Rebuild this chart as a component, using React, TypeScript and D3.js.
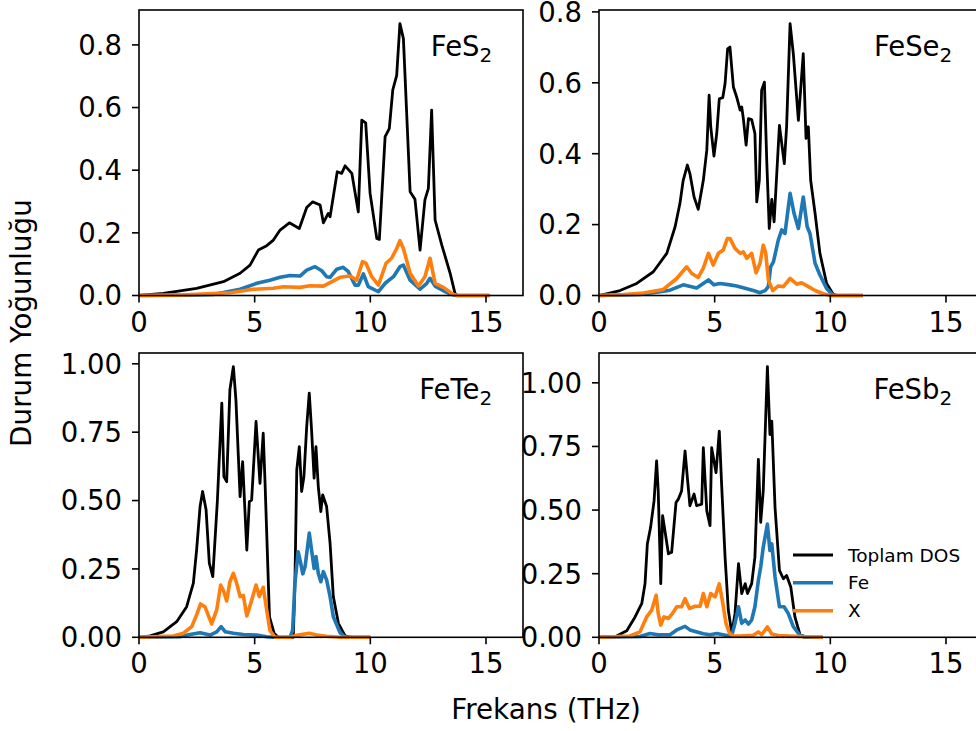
import React from "react";
import * as d3 from "d3";

type P = [number, number];

const seriesLabels = ["Toplam DOS", "Fe", "X"];
const compoundBase = ["FeS", "FeSe", "FeTe", "FeSb"];
const compoundSub = ["2", "2", "2", "2"];
const xTicks = [0, 5, 10, 15];
const yTicksTop = [0, 0.2, 0.4, 0.6, 0.8];
const yTicksBottom = [0, 0.25, 0.5, 0.75, 1.0];

const fes2Total: P[] = [[0,0],[1.05,0.007],[2.49,0.023],[3.65,0.044],[4.37,0.071],[4.8,0.097],[5.16,0.145],[5.52,0.159],[5.81,0.177],[6.1,0.209],[6.5,0.232],[6.93,0.214],[7.25,0.281],[7.51,0.299],[7.83,0.289],[7.97,0.232],[8.18,0.262],[8.26,0.251],[8.57,0.395],[8.76,0.39],[8.91,0.414],[9.2,0.39],[9.48,0.267],[9.63,0.56],[9.8,0.551],[9.99,0.326],[10.28,0.182],[10.39,0.179],[10.64,0.507],[10.82,0.533],[10.97,0.656],[11.14,0.703],[11.28,0.868],[11.43,0.82],[11.72,0.331],[11.93,0.307],[12.15,0.145],[12.36,0.305],[12.51,0.342],[12.65,0.592],[12.8,0.241],[13.09,0.161],[13.45,0.071],[13.66,0.007],[13.75,0],[15.15,0]];
const fes2Fe: P[] = [[0,0],[2,0.001],[3.21,0.003],[4.37,0.02],[5.09,0.039],[5.66,0.049],[6.1,0.058],[6.53,0.064],[6.96,0.062],[7.25,0.081],[7.61,0.092],[7.9,0.079],[8.11,0.06],[8.26,0.058],[8.55,0.084],[8.83,0.09],[9.05,0.076],[9.34,0.033],[9.48,0.033],[9.7,0.069],[9.91,0.028],[10.35,0.012],[10.64,0.039],[11.0,0.06],[11.28,0.092],[11.43,0.097],[11.72,0.049],[12.15,0.02],[12.44,0.039],[12.58,0.055],[12.8,0.03],[13.16,0.015],[13.52,0.003],[13.7,0],[15.15,0]];
const fes2X: P[] = [[0,0],[2,0.002],[3.93,0.009],[4.94,0.02],[5.81,0.023],[6.24,0.028],[6.96,0.026],[7.39,0.031],[7.97,0.03],[8.26,0.041],[8.69,0.058],[9.12,0.062],[9.41,0.049],[9.66,0.108],[9.81,0.103],[10.06,0.06],[10.35,0.033],[10.68,0.103],[10.92,0.119],[11.14,0.15],[11.28,0.175],[11.43,0.15],[11.72,0.071],[12.08,0.03],[12.36,0.06],[12.58,0.119],[12.8,0.039],[13.16,0.026],[13.59,0.003],[13.8,0],[15.15,0]];

const fese2Total: P[] = [[0,0],[0.91,0.014],[1.63,0.034],[2.35,0.067],[2.93,0.119],[3.29,0.194],[3.5,0.26],[3.64,0.325],[3.82,0.368],[3.93,0.344],[4.11,0.278],[4.29,0.243],[4.51,0.325],[4.66,0.41],[4.76,0.565],[4.83,0.476],[4.97,0.393],[5.09,0.457],[5.2,0.555],[5.35,0.558],[5.45,0.598],[5.56,0.696],[5.66,0.701],[5.81,0.588],[5.95,0.56],[6.1,0.523],[6.17,0.532],[6.24,0.499],[6.36,0.424],[6.46,0.499],[6.6,0.496],[6.74,0.457],[6.82,0.264],[6.93,0.325],[7.03,0.579],[7.15,0.602],[7.25,0.382],[7.36,0.189],[7.47,0.271],[7.57,0.208],[7.8,0.48],[8.01,0.372],[8.11,0.476],[8.26,0.767],[8.4,0.682],[8.62,0.494],[8.83,0.682],[8.95,0.443],[9.05,0.476],[9.15,0.325],[9.34,0.232],[9.55,0.119],[9.84,0.034],[10.13,0.003],[10.3,0],[11.4,0]];
const fese2Fe: P[] = [[0,0],[1.77,0.003],[2.49,0.009],[3.07,0.015],[3.64,0.03],[4.22,0.021],[4.73,0.044],[4.97,0.03],[5.23,0.034],[5.66,0.03],[5.95,0.027],[6.67,0.014],[6.96,0.008],[7.18,0.014],[7.32,0.025],[7.42,0.081],[7.54,0.095],[7.75,0.156],[7.9,0.185],[8.04,0.175],[8.26,0.288],[8.43,0.232],[8.62,0.189],[8.83,0.278],[9.0,0.194],[9.12,0.175],[9.34,0.091],[9.55,0.058],[9.84,0.02],[10.13,0],[11.4,0]];
const fese2X: P[] = [[0,0],[1.05,0.003],[1.92,0.007],[2.78,0.017],[3.36,0.048],[3.79,0.081],[4.01,0.062],[4.29,0.051],[4.51,0.077],[4.73,0.119],[4.94,0.086],[5.16,0.119],[5.37,0.128],[5.55,0.161],[5.66,0.161],[5.88,0.133],[6.1,0.119],[6.24,0.123],[6.39,0.105],[6.6,0.119],[6.79,0.064],[6.96,0.091],[7.1,0.142],[7.21,0.119],[7.32,0.044],[7.51,0.014],[7.75,0.027],[7.97,0.025],[8.26,0.048],[8.55,0.032],[8.76,0.036],[9.05,0.025],[9.34,0.014],[9.7,0.005],[10.0,0],[11.4,0]];

const fete2Total: P[] = [[0,0],[0.48,0.005],[1.05,0.02],[1.63,0.057],[2.06,0.112],[2.35,0.198],[2.49,0.319],[2.64,0.478],[2.75,0.533],[2.9,0.466],[3.04,0.271],[3.19,0.222],[3.39,0.502],[3.58,0.856],[3.67,0.588],[3.79,0.569],[3.93,0.905],[4.08,0.99],[4.19,0.868],[4.37,0.514],[4.48,0.642],[4.66,0.319],[4.77,0.496],[4.87,0.502],[5.06,0.789],[5.23,0.563],[5.37,0.746],[5.45,0.563],[5.64,0.075],[5.84,0.015],[6.02,0],[6.67,0],[6.74,0.198],[6.82,0.612],[6.93,0.697],[7.03,0.533],[7.13,0.588],[7.25,0.771],[7.36,0.893],[7.46,0.758],[7.57,0.582],[7.65,0.697],[7.75,0.551],[7.86,0.46],[7.94,0.521],[8.11,0.478],[8.26,0.344],[8.4,0.149],[8.62,0.051],[8.91,0.005],[9.2,0],[10,0]];
const fete2Fe: P[] = [[0,0],[1.77,0.002],[2.2,0.01],[2.64,0.017],[3.07,0.008],[3.36,0.02],[3.55,0.039],[3.73,0.02],[4.08,0.015],[4.51,0.01],[5.09,0.008],[5.52,0.002],[5.8,0],[6.53,0],[6.64,0.025],[6.74,0.198],[6.88,0.313],[6.99,0.271],[7.08,0.232],[7.18,0.258],[7.36,0.381],[7.46,0.319],[7.57,0.252],[7.65,0.295],[7.75,0.234],[7.86,0.203],[7.97,0.24],[8.11,0.21],[8.26,0.149],[8.4,0.075],[8.69,0.017],[8.91,0],[10,0]];
const fete2X: P[] = [[0,0],[1.48,0.005],[1.92,0.015],[2.28,0.039],[2.49,0.082],[2.66,0.122],[2.85,0.112],[3.14,0.049],[3.36,0.1],[3.53,0.191],[3.65,0.171],[3.79,0.133],[3.93,0.203],[4.08,0.234],[4.22,0.198],[4.37,0.149],[4.51,0.153],[4.66,0.078],[4.83,0.124],[5.06,0.191],[5.2,0.149],[5.37,0.183],[5.52,0.1],[5.66,0.025],[5.88,0],[6.53,0],[6.88,0.008],[7.36,0.015],[7.68,0.008],[8.11,0.004],[8.7,0],[10,0]];

const fesb2Total: P[] = [[0,0],[0.76,0.005],[1.2,0.026],[1.56,0.08],[1.85,0.133],[1.99,0.211],[2.09,0.367],[2.23,0.432],[2.38,0.536],[2.49,0.693],[2.56,0.575],[2.67,0.211],[2.75,0.478],[2.85,0.419],[3.0,0.328],[3.14,0.334],[3.33,0.53],[3.43,0.543],[3.57,0.575],[3.72,0.732],[3.82,0.627],[3.93,0.517],[4.11,0.563],[4.22,0.517],[4.44,0.523],[4.51,0.745],[4.66,0.497],[4.8,0.439],[4.87,0.745],[5.06,0.647],[5.2,0.81],[5.3,0.602],[5.45,0.315],[5.59,0.107],[5.74,0.016],[5.88,0.094],[6.03,0.289],[6.17,0.172],[6.32,0.211],[6.42,0.172],[6.6,0.211],[6.74,0.315],[6.89,0.699],[6.99,0.452],[7.1,0.575],[7.28,1.064],[7.39,0.797],[7.47,0.849],[7.61,0.51],[7.8,0.263],[7.97,0.23],[8.11,0.243],[8.29,0.198],[8.47,0.08],[8.69,0.01],[9.0,0],[9.67,0]];
const fesb2Fe: P[] = [[0,0],[1.77,0.003],[2.2,0.015],[2.56,0.01],[3.07,0.01],[3.36,0.029],[3.72,0.043],[3.93,0.029],[4.51,0.014],[4.8,0.01],[5.09,0.015],[5.52,0.007],[5.74,0.007],[5.88,0.055],[6.03,0.12],[6.17,0.055],[6.32,0.068],[6.46,0.052],[6.6,0.068],[6.74,0.12],[6.89,0.224],[6.99,0.276],[7.1,0.354],[7.28,0.445],[7.39,0.341],[7.47,0.367],[7.61,0.237],[7.8,0.12],[8.0,0.12],[8.18,0.094],[8.4,0.042],[8.69,0.007],[8.9,0],[9.67,0]];
const fesb2X: P[] = [[0,0],[1.34,0.005],[1.77,0.021],[2.06,0.08],[2.28,0.107],[2.47,0.165],[2.56,0.094],[2.67,0.048],[2.81,0.08],[3.0,0.074],[3.18,0.094],[3.36,0.12],[3.57,0.12],[3.72,0.152],[3.91,0.113],[4.15,0.122],[4.37,0.122],[4.51,0.172],[4.66,0.12],[4.83,0.172],[5.02,0.159],[5.2,0.21],[5.33,0.146],[5.49,0.055],[5.64,0.016],[5.81,0.005],[6.1,0.005],[6.67,0.008],[6.89,0.021],[7.03,0.01],[7.28,0.041],[7.47,0.013],[7.75,0.007],[8.7,0.003],[9.67,0]];

const W = 976, H = 731;
const FONT = "DejaVu Sans";
const colors = ["#000000", "#1f77b4", "#ff7f0e"];
const widths = [2.8, 3.6, 3.6];
const PW = 384, PH_TOP = 285.5, PH_BOT = 284.3;
const XMAX = 16.6;

const panels = [
  { series: [fes2Total, fes2Fe, fes2X], left: 139, top: 10, h: PH_TOP, ticks: yTicksTop, fmt: ".1f" },
  { series: [fese2Total, fese2Fe, fese2X], left: 599, top: 10, h: PH_TOP, ticks: yTicksTop, fmt: ".1f" },
  { series: [fete2Total, fete2Fe, fete2X], left: 139, top: 353, h: PH_BOT, ticks: yTicksBottom, fmt: ".2f" },
  { series: [fesb2Total, fesb2Fe, fesb2X], left: 599, top: 353, h: PH_BOT, ticks: yTicksBottom, fmt: ".2f" },
];

function Panel({ p, idx }: { p: typeof panels[number]; idx: number }) {
  const ymax = (d3.max(p.series[0], (d) => d[1]) as number) * 1.05;
  const x = d3.scaleLinear().domain([0, XMAX]).range([p.left, p.left + PW]);
  const y = d3.scaleLinear().domain([0, ymax]).range([p.top + p.h, p.top]);
  const line = d3.line<P>().x((d) => x(d[0])).y((d) => y(d[1]));
  const bottom = p.top + p.h;
  const fmt = d3.format(p.fmt);
  const tl = 7;
  return (
    <g>
      {p.series.map((s, i) => (
        <path key={i} d={line(s) || ""} fill="none" stroke={colors[i]} strokeWidth={widths[i]} strokeLinejoin="round" />
      ))}
      <rect x={p.left} y={p.top} width={PW} height={p.h} fill="none" stroke="#000" strokeWidth={1.6} />
      {xTicks.map((t) => (
        <g key={"x" + t}>
          <line x1={x(t)} x2={x(t)} y1={bottom} y2={bottom + tl} stroke="#000" strokeWidth={1.6} />
          <text x={x(t)} y={bottom + 36} textAnchor="middle" fontSize={27.5} fontFamily={FONT}>{t}</text>
        </g>
      ))}
      {p.ticks.map((t) => (
        <g key={"y" + t}>
          <line x1={p.left - tl} x2={p.left} y1={y(t)} y2={y(t)} stroke="#000" strokeWidth={1.6} />
          <text x={p.left - 17} y={y(t)} dy="0.36em" textAnchor="end" fontSize={27.5} fontFamily={FONT}>{fmt(t)}</text>
        </g>
      ))}
      <text x={p.left + 0.92 * PW} y={p.top + 46} textAnchor="end" fontSize={27.5} fontFamily={FONT}>
        {compoundBase[idx]}
        <tspan dy={5.7} fontSize={20}>{compoundSub[idx]}</tspan>
      </text>
    </g>
  );
}

export default function App() {
  const legY = [555, 582.7, 610.7];
  return (
    <svg width={W} height={H} style={{ position: "absolute", left: 0, top: 0, background: "#fff" }}>
      <rect x={0} y={0} width={W} height={H} fill="#fff" />
      {panels.map((p, i) => (
        <Panel key={i} p={p} idx={i} />
      ))}
      {seriesLabels.map((lab, i) => (
        <g key={lab}>
          <line x1={793} x2={833} y1={legY[i]} y2={legY[i]} stroke={colors[i]} strokeWidth={widths[i]} />
          <text x={848} y={legY[i]} dy="0.36em" fontSize={18.5} fontFamily={FONT}>{lab}</text>
        </g>
      ))}
      <text x={546} y={719} textAnchor="middle" fontSize={27.8} fontFamily={FONT}>Frekans (THz)</text>
      <text transform={`translate(31,323) rotate(-90)`} textAnchor="middle" fontSize={27.8} fontFamily={FONT}>Durum Yoğunluğu</text>
    </svg>
  );
}
